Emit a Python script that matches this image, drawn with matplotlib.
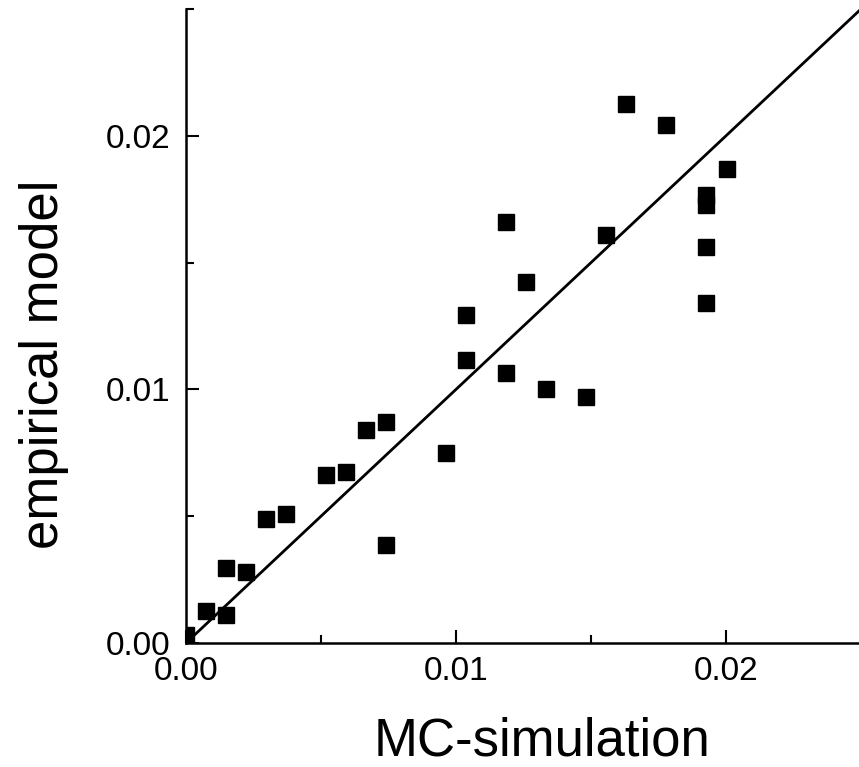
import matplotlib
matplotlib.use("Agg")
import matplotlib.pyplot as plt
from matplotlib.ticker import MultipleLocator

plt.rcParams["font.family"] = ["Liberation Sans", "DejaVu Sans"]

# MC-simulation (x) vs empirical model (y)
mc_sim = [0.0, 0.00074, 0.00147, 0.00147, 0.00222, 0.00295, 0.0037,
          0.00517, 0.00591, 0.00666, 0.00741, 0.00741, 0.00962,
          0.01037, 0.01037, 0.01185, 0.01185, 0.01259, 0.01333, 0.01481,
          0.01556, 0.0163, 0.01778, 0.01926, 0.01926, 0.01926, 0.01926,
          0.02003]
empirical = [0.0003, 0.00126, 0.0011, 0.00297, 0.00281, 0.00488, 0.00507,
             0.00661, 0.00675, 0.00838, 0.00872, 0.00385, 0.00748,
             0.01295, 0.01116, 0.01662, 0.01064, 0.01423, 0.01002, 0.00972,
             0.01607, 0.02126, 0.02041, 0.01767, 0.01728, 0.01561, 0.0134,
             0.0187]
ref_line = [0.0, 0.026]

W, H = 859, 767
fig = plt.figure(figsize=(W / 100, H / 100), dpi=100)
ax = fig.add_axes([186 / W, (H - 643) / H, 675 / W, 634 / H])

ax.plot(ref_line, ref_line, color="black", linewidth=2.0)
ax.plot(mc_sim, empirical, linestyle="none", marker="s", markersize=11,
        color="black", clip_on=True)

ax.set_xlim(0, 0.025)
ax.set_ylim(0, 0.025)
ax.xaxis.set_major_locator(MultipleLocator(0.01))
ax.yaxis.set_major_locator(MultipleLocator(0.01))
ax.xaxis.set_minor_locator(MultipleLocator(0.005))
ax.yaxis.set_minor_locator(MultipleLocator(0.005))
ax.xaxis.set_major_formatter(plt.FormatStrFormatter("%.2f"))
ax.yaxis.set_major_formatter(plt.FormatStrFormatter("%.2f"))

for s in ["top", "right"]:
    ax.spines[s].set_visible(False)
for s in ["left", "bottom"]:
    ax.spines[s].set_linewidth(1.8)

ax.tick_params(which="both", direction="in", width=1.5, labelsize=24)
ax.tick_params(which="major", length=9.5)
ax.tick_params(which="minor", length=5.5)
ax.tick_params(axis="x", which="major", pad=9)
ax.tick_params(axis="y", which="major", pad=11)

ax.set_xlabel("MC-simulation", fontsize=38)
ax.set_ylabel("empirical model", fontsize=38)
ax.xaxis.set_label_coords(0.527, -0.177)
ax.xaxis.label.set_va("baseline")
ax.yaxis.set_label_coords(-0.21, 0.439)
ax.yaxis.label.set_va("center")

fig.savefig("out.png", dpi=100)
